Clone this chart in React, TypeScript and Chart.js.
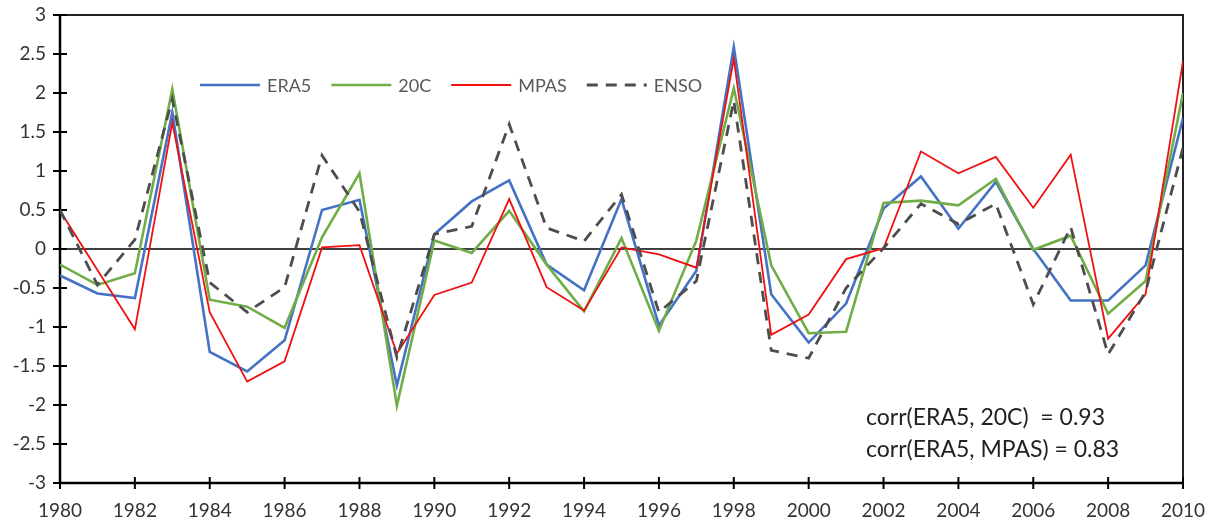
import React, { useEffect, useRef } from "react";
import { Chart, registerables } from "chart.js";

Chart.register(...registerables);

const years = [
  1980, 1981, 1982, 1983, 1984, 1985, 1986, 1987, 1988, 1989,
  1990, 1991, 1992, 1993, 1994, 1995, 1996, 1997, 1998, 1999,
  2000, 2001, 2002, 2003, 2004, 2005, 2006, 2007, 2008, 2009, 2010,
];

const era5 = [
  -0.34, -0.57, -0.63, 1.75, -1.32, -1.57, -1.17, 0.5, 0.63, -1.75,
  0.19, 0.61, 0.88, -0.2, -0.53, 0.64, -0.98, -0.28, 2.59, -0.58,
  -1.2, -0.7, 0.52, 0.93, 0.26, 0.86, 0.0, -0.66, -0.66, -0.21, 1.68,
];

const c20 = [
  -0.2, -0.46, -0.31, 2.05, -0.65, -0.74, -1.01, 0.15, 0.97, -2.01,
  0.11, -0.05, 0.49, -0.2, -0.8, 0.14, -1.05, 0.11, 2.06, -0.21,
  -1.08, -1.06, 0.59, 0.62, 0.56, 0.9, -0.01, 0.17, -0.83, -0.41, 2.0,
];

const mpas = [
  0.49, -0.27, -1.03, 1.62, -0.81, -1.7, -1.44, 0.02, 0.05, -1.34,
  -0.59, -0.43, 0.64, -0.49, -0.79, 0.02, -0.07, -0.24, 2.44, -1.1,
  -0.84, -0.13, 0.01, 1.25, 0.97, 1.18, 0.53, 1.21, -1.15, -0.58, 2.41,
];

const enso = [
  0.5, -0.46, 0.12, 1.92, -0.43, -0.81, -0.49, 1.2, 0.48, -1.39,
  0.19, 0.29, 1.6, 0.27, 0.1, 0.7, -0.81, -0.41, 1.9, -1.3,
  -1.4, -0.5, 0.01, 0.58, 0.32, 0.58, -0.71, 0.28, -1.35, -0.55, 1.3,
];

const seriesLabels = ["ERA5", "20C", "MPAS", "ENSO"];
const corrLines = ["corr(ERA5, 20C)  = 0.93", "corr(ERA5, MPAS) = 0.83"];

const FONT = "Lato, 'Open Sans', sans-serif";

const toPoints = (vals: number[]) => years.map((yr, i) => ({ x: yr, y: vals[i] }));

const decorPlugin = {
  id: "decor",
  beforeDatasetsDraw(chart: any) {
    const { ctx, chartArea: a, scales } = chart;
    const x = scales.x;
    const y = scales.y;
    ctx.save();
    ctx.strokeStyle = "#222";
    ctx.lineWidth = 2;
    ctx.beginPath();
    ctx.moveTo(a.left, a.top);
    ctx.lineTo(a.right, a.top);
    ctx.lineTo(a.right, a.bottom);
    ctx.stroke();
    ctx.strokeStyle = "#000";
    ctx.lineWidth = 2.5;
    ctx.beginPath();
    ctx.moveTo(a.left, a.top);
    ctx.lineTo(a.left, a.bottom);
    ctx.lineTo(a.right, a.bottom);
    ctx.stroke();
    ctx.lineWidth = 2;
    ctx.beginPath();
    y.ticks.forEach((t: any) => {
      const py = y.getPixelForValue(t.value);
      ctx.moveTo(a.left - 7, py);
      ctx.lineTo(a.left + 7, py);
    });
    x.ticks.forEach((t: any) => {
      const px = x.getPixelForValue(t.value);
      ctx.moveTo(px, a.bottom - 6);
      ctx.lineTo(px, a.bottom + 6);
    });
    ctx.stroke();
    ctx.lineWidth = 1.6;
    ctx.strokeStyle = "#000";
    const z = y.getPixelForValue(0);
    ctx.beginPath();
    ctx.moveTo(a.left, z);
    ctx.lineTo(a.right, z);
    ctx.stroke();
    ctx.restore();
  },
  afterDraw(chart: any) {
    const { ctx } = chart;
    ctx.save();
    let lx = 200;
    const ly = 85;
    ctx.font = `18px ${FONT}`;
    ctx.textBaseline = "middle";
    ctx.textAlign = "left";
    chart.data.datasets.forEach((ds: any) => {
      ctx.strokeStyle = ds.borderColor;
      ctx.lineWidth = ds.borderWidth;
      ctx.setLineDash(ds.borderDash || []);
      ctx.beginPath();
      ctx.moveTo(lx, ly);
      ctx.lineTo(lx + 60, ly);
      ctx.stroke();
      ctx.setLineDash([]);
      lx += 67;
      ctx.fillStyle = "#595959";
      ctx.fillText(ds.label, lx, ly + 1);
      lx += ctx.measureText(ds.label).width + 20;
    });
    ctx.font = `23px ${FONT}`;
    ctx.fillStyle = "#222";
    ctx.fillText(corrLines[0], 866, 418);
    ctx.fillText(corrLines[1], 866, 450);
    ctx.restore();
  },
};

export default function App() {
  const ref = useRef<HTMLCanvasElement | null>(null);
  useEffect(() => {
    if (!ref.current) return;
    const chart = new Chart(ref.current, {
      type: "line",
      data: {
        datasets: [
          {
            label: seriesLabels[0],
            data: toPoints(era5),
            borderColor: "#4472C4",
            borderWidth: 2.6,
            pointRadius: 0,
            tension: 0,
            order: 3,
          },
          {
            label: seriesLabels[1],
            data: toPoints(c20),
            borderColor: "#70AD47",
            borderWidth: 2.6,
            pointRadius: 0,
            tension: 0,
            order: 2,
          },
          {
            label: seriesLabels[2],
            data: toPoints(mpas),
            borderColor: "#F01010",
            borderWidth: 1.8,
            pointRadius: 0,
            tension: 0,
            order: 1,
          },
          {
            label: seriesLabels[3],
            data: toPoints(enso),
            borderColor: "#4D4D4D",
            borderWidth: 2.8,
            borderDash: [11, 8],
            pointRadius: 0,
            tension: 0,
            order: 0,
          },
        ],
      },
      options: {
        animation: false,
        responsive: false,
        devicePixelRatio: 1,
        layout: { padding: { left: 0, top: 15, right: 33, bottom: 0 } },
        plugins: {
          legend: { display: false },
          tooltip: { enabled: false },
        },
        scales: {
          x: {
            type: "linear",
            min: 1980,
            max: 2010,
            grid: { display: false, drawTicks: false },
            border: { display: false },
            ticks: {
              stepSize: 2,
              padding: 16,
              color: "#333",
              font: { family: FONT, size: 19 },
              maxRotation: 0,
              autoSkip: false,
              callback: (v: any) => String(v),
            },
            afterFit: (s: any) => {
              s.height = 41;
              s.paddingLeft = 0;
              s.paddingRight = 0;
            },
          },
          y: {
            min: -3,
            max: 3,
            grid: { display: false, drawTicks: false },
            border: { display: false },
            ticks: {
              stepSize: 0.5,
              padding: 14,
              color: "#333",
              font: { family: FONT, size: 19 },
              callback: (v: any) => String(v),
            },
            afterFit: (s: any) => {
              s.width = 60;
              s.paddingTop = 0;
              s.paddingBottom = 0;
            },
          },
        },
      },
      plugins: [decorPlugin],
    });
    return () => chart.destroy();
  }, []);
  return (
    <div style={{ position: "absolute", left: 0, top: 0, width: 1216, height: 524, background: "#fff" }}>
      <canvas ref={ref} width={1216} height={524} style={{ display: "block" }} />
    </div>
  );
}
